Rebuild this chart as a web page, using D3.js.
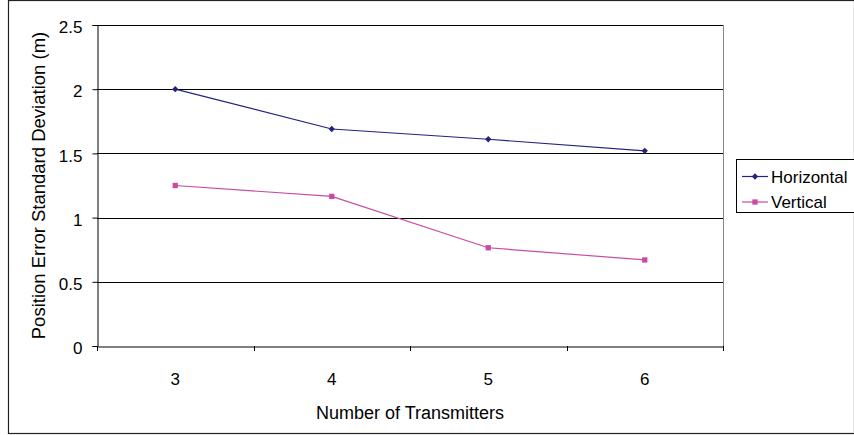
<!DOCTYPE html>
<html>
<head>
<meta charset="utf-8">
<script src="https://cdn.jsdelivr.net/npm/d3@7"></script>
<style>
  body { margin: 0; background: #fff; }
  text { font-family: "Liberation Sans", Arial, sans-serif; fill: #000; }
</style>
</head>
<body>
<div id="chart"></div>
<script>
const categories = ["3", "4", "5", "6"];
const horizontal = [2.0, 1.69, 1.61, 1.52];
const vertical = [1.25, 1.165, 0.765, 0.67];
const yTicks = [0, 0.5, 1, 1.5, 2, 2.5];
const seriesNames = ["Horizontal", "Vertical"];

const width = 854, height = 435;
const margin = { top: 25, right: 131, bottom: 89, left: 97 };
const fontFam = "Liberation Sans, Arial, sans-serif";

const svg = d3.select("#chart").append("svg")
  .attr("width", width).attr("height", height);

// outer chart border
svg.append("rect")
  .attr("x", 8.5).attr("y", 0.5)
  .attr("width", 846).attr("height", 433)
  .attr("fill", "none").attr("stroke", "#222").attr("stroke-width", 1.2);

const x = d3.scaleBand().domain(categories)
  .range([margin.left, width - margin.right]);
const y = d3.scaleLinear().domain([0, 2.5])
  .range([height - margin.bottom, margin.top]);

// gridlines
svg.append("g").selectAll("line")
  .data(yTicks.filter(d => d > 0))
  .join("line")
  .attr("x1", margin.left).attr("x2", width - margin.right)
  .attr("y1", d => Math.round(y(d)) + 0.5).attr("y2", d => Math.round(y(d)) + 0.5)
  .attr("stroke", "#000");

// right plot border
svg.append("line")
  .attr("x1", width - margin.right + 0.5).attr("x2", width - margin.right + 0.5)
  .attr("y1", margin.top).attr("y2", height - margin.bottom)
  .attr("stroke", "#888");

// y axis
const yAxis = svg.append("g")
  .attr("transform", `translate(${margin.left + 0.5},0)`)
  .call(d3.axisLeft(y).tickValues(yTicks).tickFormat(d3.format("")).tickSize(5).tickPadding(10));
yAxis.select(".domain").attr("stroke", "#000");
yAxis.selectAll("text").style("font-size", "17px").style("font-family", fontFam).attr("dy", "0.45em");

// x axis
const xAxis = svg.append("g")
  .attr("transform", `translate(0,${height - margin.bottom + 0.5})`)
  .call(d3.axisBottom(x).tickSize(0).tickPadding(26));
xAxis.select(".domain").attr("stroke", "#000");
xAxis.selectAll("text").style("font-size", "17px").style("font-family", fontFam);
// category boundary ticks
svg.append("g").selectAll("line")
  .data(categories.map(c => x(c)).concat([x.range()[1]]))
  .join("line")
  .attr("x1", d => Math.round(d) + 0.5).attr("x2", d => Math.round(d) + 0.5)
  .attr("y1", height - margin.bottom).attr("y2", height - margin.bottom + 5)
  .attr("stroke", "#000");

// axis titles
svg.append("text")
  .attr("x", (margin.left + width - margin.right) / 2)
  .attr("y", 418.5)
  .attr("text-anchor", "middle")
  .style("font-size", "18px")
  .text("Number of Transmitters");
svg.append("text")
  .attr("transform", `translate(45,${(margin.top + height - margin.bottom) / 2}) rotate(-90)`)
  .attr("text-anchor", "middle")
  .style("font-size", "18.5px")
  .text("Position Error Standard Deviation (m)");

const cx = c => x(c) + x.bandwidth() / 2;
const line = d3.line().x(d => cx(d.c)).y(d => y(d.v));

const series = [
  { name: seriesNames[0], values: horizontal, color: "#23237e", diamond: true },
  { name: seriesNames[1], values: vertical, color: "#c84aa4", diamond: false }
];

const marker = (sel, s) => sel
  .attr("d", d3.symbol().type(d3.symbolSquare).size(s.diamond ? 20 : 28))
  .attr("fill", s.color);

series.forEach(s => {
  const pts = s.values.map((v, i) => ({ c: categories[i], v }));
  svg.append("path").datum(pts)
    .attr("d", line).attr("fill", "none")
    .attr("stroke", s.color).attr("stroke-width", 1.2);
  svg.append("g").selectAll("path")
    .data(pts).join("path")
    .attr("transform", d => `translate(${cx(d.c)},${y(d.v)})` + (s.diamond ? " rotate(45)" : ""))
    .call(marker, s);
});

// legend
const lg = svg.append("g");
lg.append("rect")
  .attr("x", 736.5).attr("y", 159.5)
  .attr("width", 130).attr("height", 53)
  .attr("fill", "#fff").attr("stroke", "#000");
series.forEach((s, i) => {
  const ly = 176.5 + i * 25.5;
  lg.append("line").attr("x1", 742).attr("x2", 768)
    .attr("y1", ly).attr("y2", ly).attr("stroke", s.color).attr("stroke-width", 1.2);
  lg.append("path")
    .attr("transform", `translate(755,${ly})` + (s.diamond ? " rotate(45)" : ""))
    .call(marker, s);
  lg.append("text").attr("x", 771).attr("y", ly + 6)
    .style("font-size", "17px").text(s.name);
});
</script>
</body>
</html>
